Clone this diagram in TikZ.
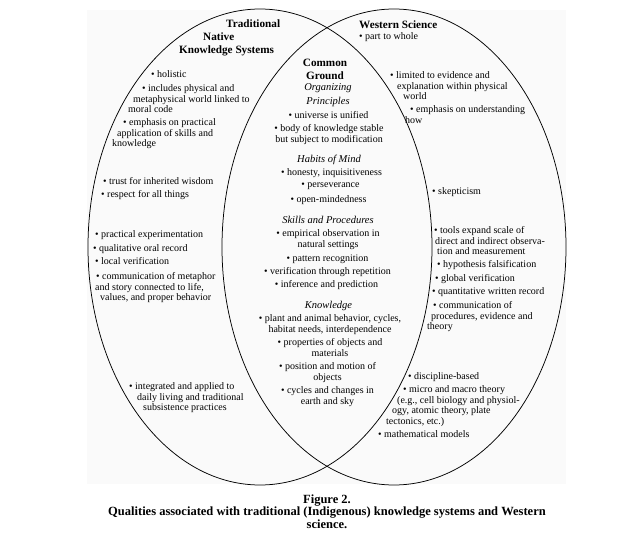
\documentclass[tikz,border=0pt]{standalone}
\usepackage{fontspec}
\setmainfont{Liberation Serif}
\usepackage{tikz}
\tikzset{
  ring/.style   ={draw=black, line width=0.75pt},
  headtxt/.style={font=\bfseries\fontsize{11.2}{13}\selectfont, inner sep=0pt,
                  yshift=5pt},
  subtxt/.style ={font=\itshape\fontsize{10.5}{14}\selectfont, inner sep=0pt,
                  align=center, anchor=north, yshift=4.7pt},
  itemtxt/.style={font=\fontsize{10}{10.5}\selectfont, inner sep=0pt,
                  align=left, anchor=north west, yshift=4.5pt},
  cgtxt/.style  ={itemtxt, align=center, anchor=north},
  captxt/.style ={font=\bfseries\fontsize{12.5}{12.5}\selectfont, inner sep=0pt,
                  align=center, anchor=north, yshift=5.6pt},
}
\begin{document}
\begin{tikzpicture}[x=1pt,y=-1pt]
  \useasboundingbox (0,0) rectangle (622,538);
  \fill[black!2] (87,10) rectangle (566,484);
  \draw[ring] (260,247) ellipse [x radius=172pt, y radius=238pt];
  \draw[ring] (394,247) ellipse [x radius=172pt, y radius=238pt];
  %% traditional native knowledge
  \node[headtxt, align=left, anchor=north west] (tnks) at (179,25)
    {\hspace*{47pt}Traditional\\\hspace*{24pt}Native\\Knowledge Systems};
  \node[itemtxt] (hol) at (151,75) {• holistic};
  \node[itemtxt] (inc) at (128,89)
    {\hspace*{14pt}• includes physical and\\\hspace*{5pt}metaphysical world linked to\\moral code};
  \node[itemtxt] (emp) at (112,123)
    {\hspace*{11pt}• emphasis on practical\\\hspace*{5pt}application of skills and\\knowledge};
  \node[itemtxt] (tru) at (103,182) {• trust for inherited wisdom};
  \node[itemtxt] (res) at (101,195) {• respect for all things};
  \node[itemtxt] (pra) at (95,235) {• practical experimentation};
  \node[itemtxt] (qua) at (93,249) {• qualitative oral record};
  \node[itemtxt] (loc) at (95,262) {• local verification};
  \node[itemtxt] (com) at (95,277)
    {\hspace*{1pt}• communication of metaphor\\and story connected to life,\\\hspace*{5pt}values, and proper behavior};
  \node[itemtxt] (int) at (129,387)
    {• integrated and applied to\\\hspace*{8pt}daily living and traditional\\\hspace*{14pt}subsistence practices};
  %% common ground
  \node[headtxt, align=center, anchor=north] (cgr) at (325,64) {Common\\Ground};
  \node[subtxt] (org) at (328,88) {Organizing\\Principles};
  \node[cgtxt] (uni) at (328.5,116) {• universe is unified};
  \node[cgtxt] (bod) at (329,129) {• body of knowledge stable\\but subject to modification};
  \node[subtxt] (hab) at (329,160) {Habits of Mind};
  \node[cgtxt] (hon) at (331.5,173) {• honesty, inquisitiveness};
  \node[cgtxt] (per) at (330.5,187) {• perseverance};
  \node[cgtxt] (ope) at (328.5,200) {• open-mindedness};
  \node[subtxt] (ski) at (328,221) {Skills and Procedures};
  \node[cgtxt] (emo) at (328,234) {• empirical observation in\\natural settings};
  \node[cgtxt] (pat) at (327.5,259) {• pattern recognition};
  \node[cgtxt] (ver) at (327.5,272) {• verification through repetition};
  \node[cgtxt] (inf) at (326.5,285) {• inference and prediction};
  \node[subtxt] (kno) at (328.5,306) {Knowledge};
  \node[cgtxt] (pla) at (330,319) {• plant and animal behavior, cycles,\\habitat needs, interdependence};
  \node[cgtxt] (pro) at (330,343) {• properties of objects and\\materials};
  \node[cgtxt] (pos) at (327.5,367) {• position and motion of\\objects};
  \node[cgtxt] (cyc) at (327.5,391) {• cycles and changes in\\earth and sky};
  %% western science
  \node[headtxt, anchor=north west] (wsc) at (359,26) {Western Science};
  \node[itemtxt] (ptw) at (359,37) {• part to whole};
  \node[itemtxt] (lim) at (390,76)
    {• limited to evidence and\\\hspace*{7pt}explanation within physical\\\hspace*{13pt}world};
  \node[itemtxt] (emh) at (405,110) {\hspace*{5pt}• emphasis on understanding\\how};
  \node[itemtxt] (ske) at (432,192) {• skepticism};
  \node[itemtxt] (too) at (434,231)
    {• tools expand scale of\\\hspace*{1pt}direct and indirect observa-\\\hspace*{3pt}tion and measurement};
  \node[itemtxt] (hyp) at (437,265) {• hypothesis falsification};
  \node[itemtxt] (glo) at (435,279) {• global verification};
  \node[itemtxt] (qwr) at (432,292) {• quantitative written record};
  \node[itemtxt] (cmp) at (427,306)
    {\hspace*{6pt}• communication of\\\hspace*{4pt}procedures, evidence and\\theory};
  \node[itemtxt] (dis) at (408,377) {• discipline-based};
  \node[itemtxt] (mic) at (386,390)
    {\hspace*{17pt}• micro and macro theory\\\hspace*{11pt}(e.g., cell biology and physiol-\\\hspace*{6pt}ogy, atomic theory, plate\\tectonics, etc.)};
  \node[itemtxt] (mat) at (378,435) {• mathematical models};
  %% caption
  \node[captxt] (cap) at (327,500)
    {Figure 2.\\Qualities associated with traditional (Indigenous) knowledge systems and Western\\science.};
\end{tikzpicture}
\end{document}
